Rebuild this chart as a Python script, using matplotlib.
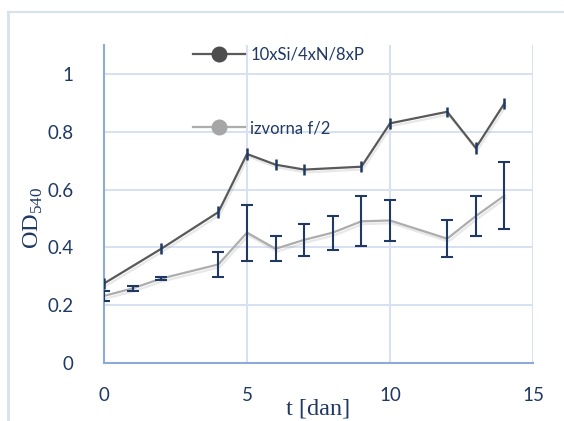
import matplotlib
matplotlib.use("Agg")
import matplotlib.pyplot as plt
from matplotlib.lines import Line2D
import matplotlib.patheffects as pe

# Growth curves (OD540) over time in days
days_si = [0, 2, 4, 5, 6, 7, 9, 10, 12, 13, 14]
od_si = [0.275, 0.395, 0.522, 0.723, 0.686, 0.669, 0.679, 0.829, 0.869, 0.744, 0.898]
err_si = [0.02, 0.019, 0.02, 0.02, 0.019, 0.018, 0.02, 0.02, 0.018, 0.02, 0.02]

days_f2 = [0, 1, 2, 4, 5, 6, 7, 8, 9, 10, 12, 13, 14]
od_f2 = [0.232, 0.258, 0.292, 0.341, 0.451, 0.395, 0.426, 0.451, 0.490, 0.493, 0.430, 0.508, 0.579]
err_f2 = [0.017, 0.010, 0.006, 0.043, 0.097, 0.043, 0.056, 0.059, 0.086, 0.070, 0.064, 0.070, 0.116]

series_labels = ["10xSi/4xN/8xP", "izvorna f/2"]
x_ticks = [0, 5, 10, 15]
y_ticks = [0, 0.2, 0.4, 0.6, 0.8, 1.0]
y_tick_labels = ["0", "0.2", "0.4", "0.6", "0.8", "1"]

TEXT = "#1F3864"
DARK = "#595959"
LIGHT = "#ADADAD"
GRID = "#D6E1F2"
SPINE = "#8EAADB"

W, H = 564, 421
fig = plt.figure(figsize=(W / 100, H / 100), dpi=100)
ax = fig.add_axes([104 / W, 1 - 363 / H, (533 - 104) / W, (363 - 45) / H])

# outer chart frame (top and left edges)
fig.add_artist(Line2D([7.5 / W, 7.5 / W], [0, 1 - 12 / H], transform=fig.transFigure,
                      color=GRID, lw=2))
fig.add_artist(Line2D([7.5 / W, 1], [1 - 12 / H, 1 - 12 / H], transform=fig.transFigure,
                      color=GRID, lw=1.5))

shadow = [pe.SimpleLineShadow(offset=(1.0, -2.0), shadow_color="#8c8c8c", alpha=0.2, rho=1.0),
          pe.Normal()]

ax.plot(days_si, od_si, color=DARK, lw=1.6, zorder=3, path_effects=shadow)
ax.plot(days_f2, od_f2, color=LIGHT, lw=1.6, zorder=3, path_effects=shadow)

ax.errorbar(days_si, od_si, yerr=err_si, fmt="none", ecolor=TEXT, elinewidth=1.8,
            capsize=0, zorder=4)
ax.errorbar(days_f2, od_f2, yerr=err_f2, fmt="none", ecolor=TEXT, elinewidth=1.5,
            capsize=4, capthick=1.5, zorder=4)

ax.set_xlim(0, 15)
ax.set_ylim(0, 1.1)
ax.set_xticks(x_ticks)
ax.set_yticks(y_ticks)
ax.set_yticklabels(y_tick_labels)
ax.tick_params(axis="both", length=0, labelcolor=TEXT, labelsize=13.5,
               labelfontfamily="Lato")
ax.tick_params(axis="x", pad=17)
ax.tick_params(axis="y", pad=22)

ax.grid(True, color=GRID, lw=1.4, zorder=0)
ax.set_axisbelow(True)
for side in ("top", "right"):
    ax.spines[side].set_visible(False)
for side in ("left", "bottom"):
    ax.spines[side].set_color(SPINE)
    ax.spines[side].set_linewidth(1.5)

plt.rcParams["mathtext.fontset"] = "custom"
plt.rcParams["mathtext.rm"] = "Liberation Serif"
fig.text(39 / W, 1 - 218 / H, r"OD$_{\mathrm{540}}$", family="Liberation Serif",
         fontsize=17.5, color=TEXT, rotation=90, rotation_mode="anchor",
         ha="center", va="baseline")
fig.text(318.5 / W, 1 - 415 / H, "t [dan]", family="Liberation Serif", fontsize=17.5,
         color=TEXT, ha="center", va="baseline")

# two separate legend entries inside the plot area
h1 = Line2D([], [], color=DARK, lw=1.6, marker="o", markersize=10.5,
            markerfacecolor="#4d4d4d", markeredgecolor="#4d4d4d")
h2 = Line2D([], [], color=LIGHT, lw=1.6, marker="o", markersize=10.5,
            markerfacecolor="#a6a6a6", markeredgecolor="#a6a6a6")
leg_kw = dict(frameon=False, handlelength=3.1, handletextpad=0.35,
              labelcolor=TEXT, prop={"family": "Lato", "size": 12}, borderpad=0,
              borderaxespad=0, loc="center left")
leg1 = ax.legend([h1], [series_labels[0]], bbox_to_anchor=(193 / W, 1 - 55 / H),
                 bbox_transform=fig.transFigure, **leg_kw)
ax.add_artist(leg1)
ax.legend([h2], [series_labels[1]], bbox_to_anchor=(193 / W, 1 - 128 / H),
          bbox_transform=fig.transFigure, **leg_kw)

fig.savefig("out.png", dpi=100)
